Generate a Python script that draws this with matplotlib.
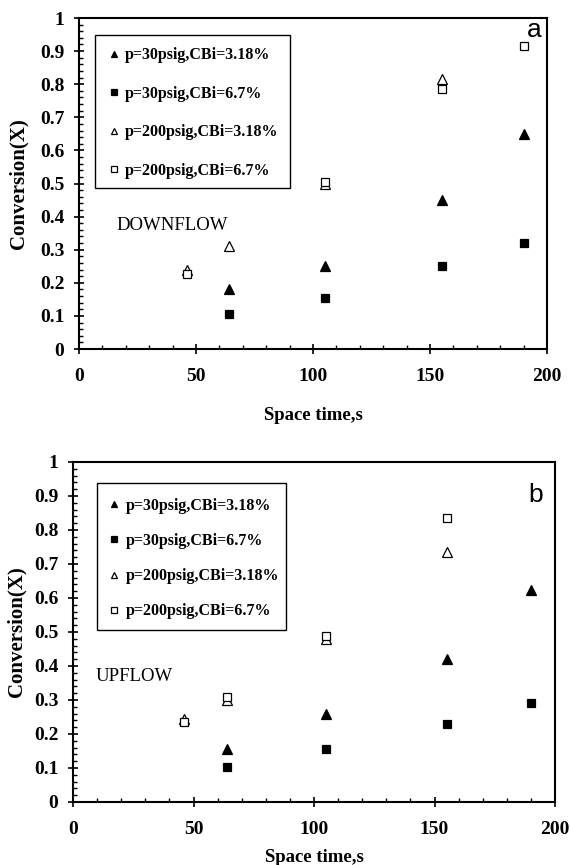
import numpy as np
import matplotlib.pyplot as plt
from matplotlib.ticker import MultipleLocator
from matplotlib.patches import Rectangle

plt.rcParams['font.family'] = ['Liberation Serif', 'DejaVu Serif']

labels = ['p=30psig,CBi=3.18%', 'p=30psig,CBi=6.7%',
          'p=200psig,CBi=3.18%', 'p=200psig,CBi=6.7%']
markers = ['^', 's', '^', 's']
filled = [True, True, False, False]

# downflow (a)
down_x = [[64, 105, 155, 190],
          [64, 105, 155, 190],
          [46, 64, 105, 155],
          [46, 105, 155, 190]]
down_y = [[0.18, 0.25, 0.45, 0.65],
          [0.105, 0.155, 0.25, 0.32],
          [0.24, 0.31, 0.50, 0.815],
          [0.228, 0.505, 0.785, 0.915]]

# upflow (b)
up_x = [[64, 105, 155, 190],
        [64, 105, 155, 190],
        [46, 64, 105, 155],
        [46, 64, 105, 155]]
up_y = [[0.157, 0.258, 0.42, 0.625],
        [0.103, 0.155, 0.23, 0.29],
        [0.245, 0.30, 0.48, 0.735],
        [0.235, 0.31, 0.487, 0.835]]

fig = plt.figure(figsize=(5.7, 8.65), dpi=100)
W, H = 570, 865


def panel(rect, xs, ys, tag, flow, box, leg_xy, spacing, flow_pos, tag_pos,
          ylab_x, xlab_y):
    l, t, r, b = rect
    ax = fig.add_axes([l / W, 1 - b / H, (r - l) / W, (b - t) / H])
    for i in range(4):
        ax.plot(xs[i], ys[i], linestyle='none', marker=markers[i],
                markersize=6.5 if markers[i] == '^' else 6,
                markerfacecolor='black' if filled[i] else 'white',
                markeredgecolor='black', markeredgewidth=0.9,
                label=labels[i])
    ax.set_xlim(0, 200)
    ax.set_ylim(0, 1)
    ax.xaxis.set_major_locator(MultipleLocator(50))
    ax.xaxis.set_minor_locator(MultipleLocator(10))
    ax.yaxis.set_minor_locator(MultipleLocator(0.02))
    ax.set_yticks(np.arange(0, 1.01, 0.1))
    ax.set_yticklabels(['0'] + ['%.1f' % v for v in np.arange(0.1, 0.95, 0.1)] + ['1'])
    ax.tick_params(which='major', direction='inout', length=7, width=1.2,
                   labelsize=14, pad=7)
    ax.tick_params(which='minor', direction='in', length=3, width=1)
    ax.tick_params(axis='x', which='major', pad=10)
    for lab in ax.get_xticklabels() + ax.get_yticklabels():
        lab.set_fontweight('bold')
    for s in ax.spines.values():
        s.set_linewidth(1.5)
    ax.set_xlabel('Space time,s', fontsize=13.5, fontweight='bold')
    ax.set_ylabel('Conversion(X)', fontsize=15, fontweight='bold')
    ax.xaxis.set_label_coords(0.5, xlab_y)
    ax.yaxis.set_label_coords(ylab_x, 0.5)

    # legend box drawn separately so its padding can be set freely
    x0, y0, x1, y1 = box
    ax.add_patch(Rectangle((x0, y0), x1 - x0, y1 - y0, transform=ax.transAxes,
                           facecolor='white', edgecolor='black', lw=1.0,
                           zorder=4))
    leg = ax.legend(loc='center left', bbox_to_anchor=leg_xy, frameon=False,
                    prop={'weight': 'bold', 'size': 11.5}, markerscale=0.75,
                    labelspacing=spacing, borderpad=0, handlelength=0.7,
                    handletextpad=0.35, borderaxespad=0)
    leg.set_zorder(5)
    ax.text(flow_pos[0], flow_pos[1], flow, transform=ax.transAxes,
            fontsize=13.5, va='center', ha='left')
    ax.text(tag_pos[0], tag_pos[1], tag, transform=ax.transAxes,
            fontsize=19, va='center', ha='center', family='Liberation Sans')
    return ax


# top: axes box 79..547 x 18..349 px
panel((79, 18, 547, 349), down_x, down_y, 'a', 'DOWNFLOW',
      (0.034, 0.486, 0.451, 0.949), (0.063, 0.713), 1.4,
      (0.08, 0.372), (0.973, 0.963), -0.109, -0.175)
# bottom: axes box 73..555 x 462..802 px
panel((73, 462, 555, 802), up_x, up_y, 'b', 'UPFLOW',
      (0.050, 0.506, 0.442, 0.938), (0.074, 0.716), 1.2,
      (0.046, 0.368), (0.96, 0.903), -0.0975, -0.138)

fig.savefig('out.png', dpi=100)
